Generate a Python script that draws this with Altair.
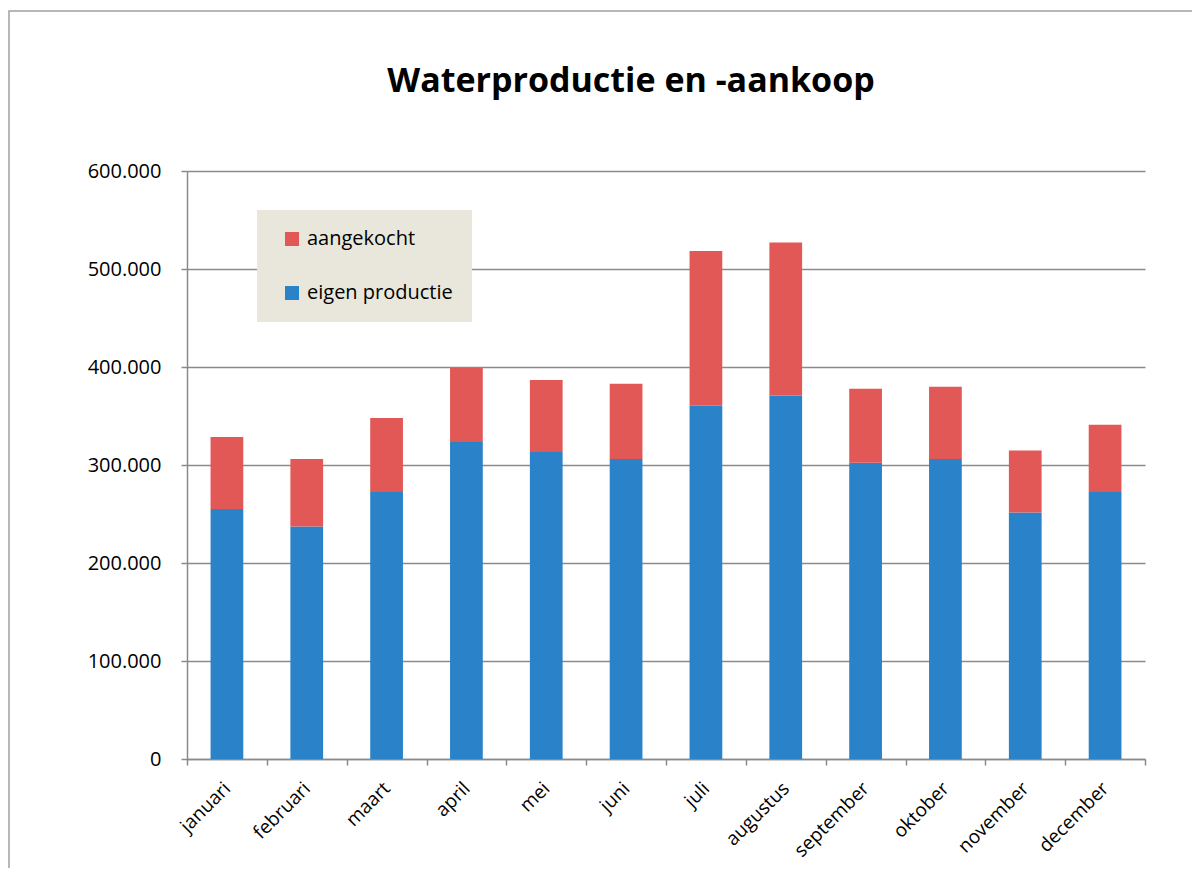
import altair as alt
import pandas as pd

months = ["januari", "februari", "maart", "april", "mei", "juni",
          "juli", "augustus", "september", "oktober", "november", "december"]
eigen_productie = [255100, 237300, 272400, 323500, 313300, 306100,
                   360500, 371000, 302300, 306100, 251600, 272400]
aangekocht = [73500, 68800, 75600, 75500, 73400, 76900,
              157900, 156100, 75600, 73800, 63300, 68700]
series = ["aangekocht", "eigen productie"]
series_colors = ["#E25856", "#2A82C8"]
y_ticks = [0, 100000, 200000, 300000, 400000, 500000, 600000]
title_text = "Waterproductie en -aankoop"

rows = []
for m, e, a in zip(months, eigen_productie, aangekocht):
    rows.append({"maand": m, "reeks": "eigen productie", "waarde": e, "volgorde": 0})
    rows.append({"maand": m, "reeks": "aangekocht", "waarde": a, "volgorde": 1})
df = pd.DataFrame(rows)

FONT = "Open Sans"
GRAY = "#8A8A8A"

bars = alt.Chart(df).mark_bar(width=alt.RelativeBandSize(0.41)).encode(
    x=alt.X("maand:N", sort=months, title=None,
            scale=alt.Scale(paddingInner=0, paddingOuter=0),
            axis=alt.Axis(tickBand="extent", labelAngle=-45, labelAlign="right",
                          labelBaseline="middle", labelPadding=20, tickSize=6,
                          domainColor=GRAY, tickColor=GRAY, domainWidth=1.5, tickWidth=1.5,
                          labelFontSize=19, labelColor="#000000", labelFont=FONT,
                          grid=False)),
    y=alt.Y("waarde:Q", stack="zero", title=None,
            scale=alt.Scale(domain=[0, 600000], nice=False),
            axis=alt.Axis(values=y_ticks,
                          labelExpr="replace(format(datum.value, ','), ',', '.')",
                          tickSize=6, labelPadding=20, labelFontSize=20, labelFont=FONT,
                          labelColor="#000000", domainColor=GRAY, tickColor=GRAY,
                          domainWidth=1.5, tickWidth=1.5,
                          gridColor=GRAY, gridWidth=1.5)),
    color=alt.Color("reeks:N", title=None,
                    scale=alt.Scale(domain=series, range=series_colors),
                    legend=alt.Legend(orient="none", legendX=70, legendY=39,
                                      fillColor="#E9E7DB", padding=19,
                                      symbolType="square", symbolSize=196,
                                      symbolStrokeWidth=0, symbolOffset=6,
                                      labelOffset=5, rowPadding=34,
                                      labelFontSize=20, labelFont=FONT,
                                      labelColor="#000000", direction="vertical")),
    order=alt.Order("volgorde:Q", sort="ascending"),
)

frame = alt.Chart(alt.Data(values=[{"f": 1}])).mark_rect(
    fill=None, stroke="#A0A0A0", strokeWidth=1.5
).encode(
    x=alt.value(-178), x2=alt.value(1100),
    y=alt.value(-160), y2=alt.value(800),
)

chart = alt.layer(frame, bars).properties(
    width=958, height=588,
    autosize=alt.AutoSizeParams(type="none"),
    padding={"left": 179, "top": 163, "right": 47, "bottom": 109},
    title=alt.Title(title_text, font=FONT, fontSize=34, fontWeight="bold",
                    color="#000000", anchor="middle", dx=-35, offset=-116,
                    baseline="alphabetic"),
).configure_view(stroke=None)

chart.save("out.html", embed_options={"renderer": "svg", "actions": False})
